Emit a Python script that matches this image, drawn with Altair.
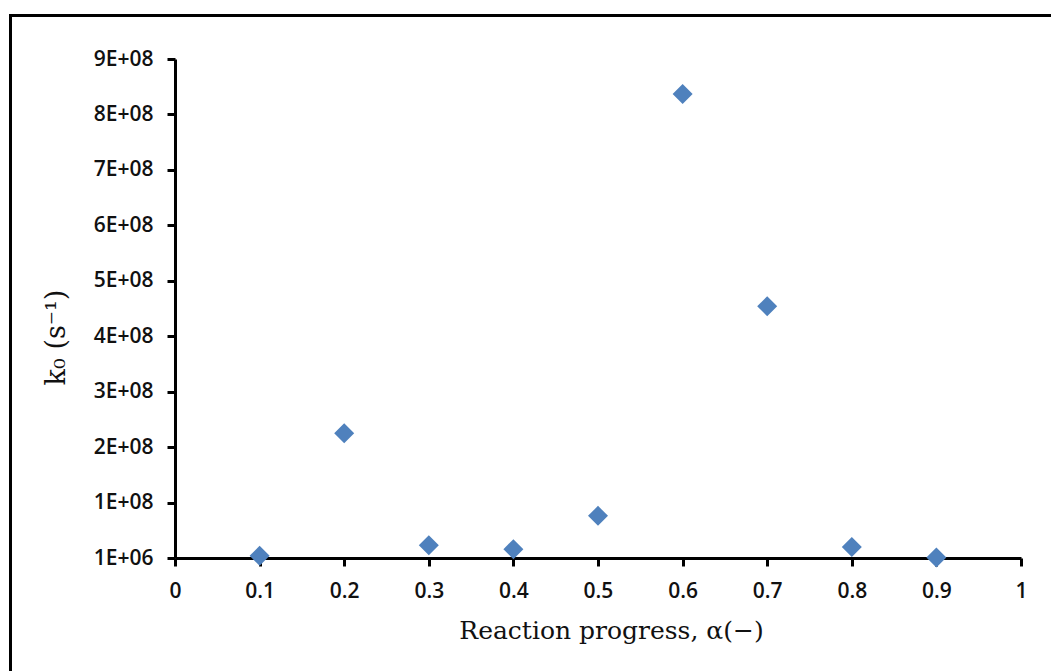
import altair as alt
import pandas as pd

alpha = [0.1, 0.2, 0.3, 0.4, 0.5, 0.6, 0.7, 0.8, 0.9]
k0 = [5e6, 2.26e8, 2.4e7, 1.7e7, 7.7e7, 8.38e8, 4.55e8, 2.1e7, 2e6]

y_ticks = [1e6 + i * 1e8 for i in range(10)]
y_tick_labels = ["1E+06", "1E+08", "2E+08", "3E+08", "4E+08", "5E+08",
                 "6E+08", "7E+08", "8E+08", "9E+08"]
x_ticks = [0, 0.1, 0.2, 0.3, 0.4, 0.5, 0.6, 0.7, 0.8, 0.9, 1]

df = pd.DataFrame({"alpha": alpha, "k0": k0})

label_arr = "[" + ",".join("'%s'" % s for s in y_tick_labels) + "]"
y_label_expr = label_arr + "[round((datum.value - 1000000) / 100000000)]"

W, H = 846, 499
LEFT, TOP = 175, 59

points = alt.Chart(df).mark_point(
    shape="diamond", filled=True, color="#4F81BD", opacity=1, size=400
).encode(
    x=alt.X("alpha:Q",
            scale=alt.Scale(domain=[0, 1], nice=False, zero=False),
            axis=alt.Axis(values=x_ticks, format="~g",
                          title="Reaction progress, α(−)",
                          titleFont="DejaVu Serif", titleFontSize=25,
                          titleFontWeight="normal", titleColor="#111111",
                          titleX=436, titleY=80, titleAnchor="middle",
                          titleAlign="center", titleBaseline="alphabetic",
                          labelFont="Open Sans", labelFontSize=21,
                          labelFontWeight=600, labelColor="#111111",
                          labelPadding=14, labelFlush=False,
                          domainColor="black", domainWidth=3,
                          tickColor="black", tickWidth=3, tickSize=8,
                          grid=False)),
    y=alt.Y("k0:Q",
            scale=alt.Scale(domain=[1e6, 9.01e8], nice=False, zero=False),
            axis=alt.Axis(values=y_ticks, labelExpr=y_label_expr,
                          title="k₀ (s⁻¹)",
                          titleFont="DejaVu Serif", titleFontSize=27,
                          titleFontWeight="normal", titleColor="#111111",
                          titleAngle=-90, titleX=-111, titleY=278,
                          titleAlign="center", titleBaseline="alphabetic",
                          labelFont="Open Sans", labelFontSize=21,
                          labelFontWeight=600, labelColor="#111111",
                          labelPadding=14, labelFlush=False,
                          domainColor="black", domainWidth=3,
                          tickColor="black", tickWidth=3, tickSize=8,
                          grid=False)),
)

frame = alt.Chart(pd.DataFrame({"d": [0]})).mark_rect(
    fill=None, stroke="black", strokeWidth=3, clip=False
).encode(
    x=alt.value(10.5 - LEFT), x2=alt.value(1051 - LEFT + 20),
    y=alt.value(15.5 - TOP), y2=alt.value(671 - TOP + 20),
)

chart = alt.layer(frame, points).properties(
    width=W, height=H,
    autosize=alt.AutoSizeParams(type="none"),
    padding={"left": LEFT, "top": TOP, "right": 1051 - LEFT - W, "bottom": 671 - TOP - H},
    background="white",
).configure_view(stroke=None)

chart.save("out.html", embed_options={"renderer": "svg", "actions": False})
